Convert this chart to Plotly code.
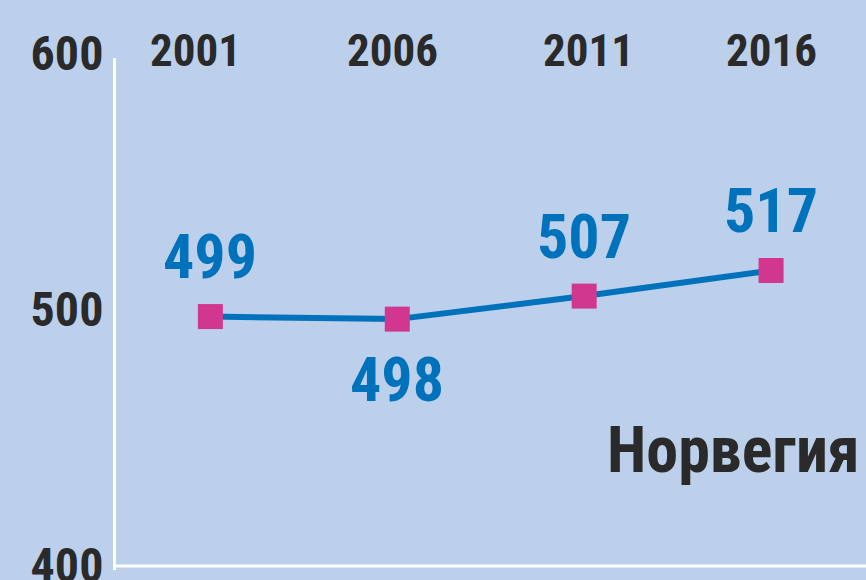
import plotly.graph_objects as go

years = [2001, 2006, 2011, 2016]
values = [499, 498, 507, 517]
label_side = [1, -1, 1, 1]   # 1 = above, -1 = below
year_label_shift = [-15, -5, 4, 0]
y_ticks = [400, 500, 600]
country = "Норвегия"

FONT = "Liberation Sans Narrow, Roboto Condensed, DejaVu Sans Condensed, Arial Narrow, sans-serif"
BG = "#BCD0EB"
BLUE = "#0072BB"
MAGENTA = "#D1378E"
DARK = "#2A2A2A"

fig = go.Figure()
fig.add_trace(go.Scatter(
    x=years, y=values, mode="lines+markers",
    line=dict(color=BLUE, width=6),
    marker=dict(symbol="square", size=25, color=MAGENTA, line=dict(width=0)),
    hoverinfo="skip", showlegend=False,
))

annotations = []
for x, v, s in zip(years, values, label_side):
    annotations.append(dict(
        x=x, y=v, xref="x", yref="y", text=str(v), showarrow=False,
        yshift=60 * s, font=dict(family=FONT, size=62, color=BLUE, weight="bold"),
    ))
for x, sh in zip(years, year_label_shift):
    annotations.append(dict(
        x=x, y=1, xref="x", yref="paper", text=str(x), showarrow=False,
        xshift=sh, yshift=8, yanchor="middle",
        font=dict(family=FONT, size=45, color=DARK, weight="bold"),
    ))
annotations.append(dict(
    x=1, y=446.5, xref="paper", yref="y", text=country, showarrow=False,
    xanchor="right", yanchor="middle", xshift=-4,
    font=dict(family=FONT, size=64, color=DARK, weight="bold"),
))

fig.update_layout(
    width=866, height=580,
    margin=dict(l=116, r=0, t=58, b=10, autoexpand=False),
    paper_bgcolor=BG, plot_bgcolor=BG,
    annotations=annotations,
    xaxis=dict(range=[1998.475, 2018.54], showgrid=False, zeroline=False,
               showticklabels=False, ticks="", automargin=False),
    yaxis=dict(range=[400, 600], tickvals=y_ticks, showgrid=False, zeroline=False,
               showline=True, linecolor="white", linewidth=3, ticks="",
               ticklabelstandoff=0, ticklabelshift=-5, ticklabeloverflow="allow",
               automargin=False,
               tickfont=dict(family=FONT, size=48, color=DARK, weight="bold")),
    shapes=[dict(type="line", xref="paper", yref="paper", x0=0, x1=1, y0=0.008, y1=0.008,
                 line=dict(color="white", width=3))],
)

fig.write_html("out.html", config={"displayModeBar": False, "staticPlot": True},
               post_script="document.body.style.margin='0';document.body.style.overflow='hidden';")
